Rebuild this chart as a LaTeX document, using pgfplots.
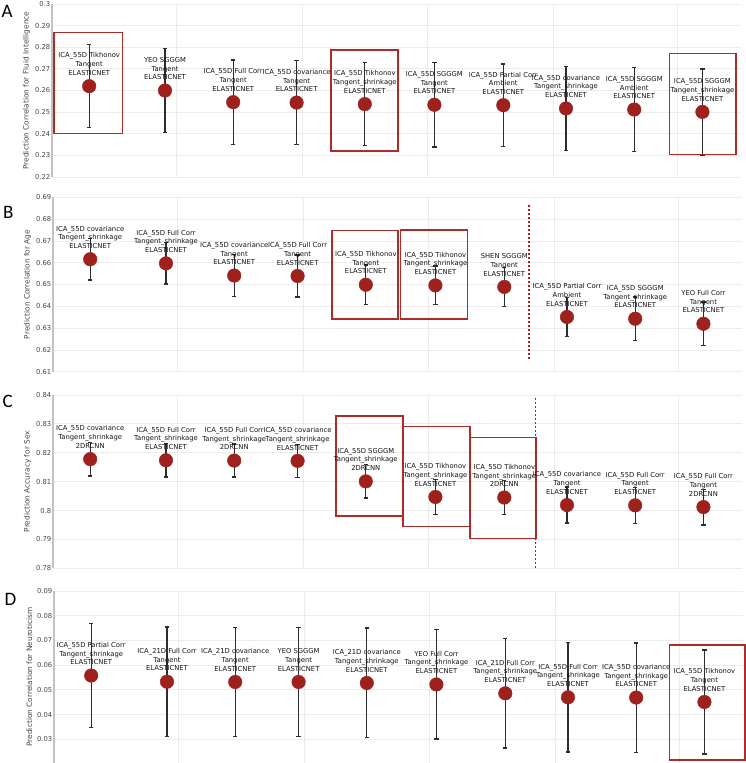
\documentclass[border=0pt]{standalone}
\usepackage{pgfplots}
\pgfplotsset{compat=1.18}
\usepackage{fontspec}
\setmainfont{DejaVu Sans}
\newfontfamily\letterfont{Carlito}

\definecolor{markred}{RGB}{158,33,30}
\definecolor{boxred}{RGB}{176,42,42}
\definecolor{dashred}{RGB}{180,30,30}
\definecolor{gridcol}{RGB}{236,236,236}
\definecolor{axiscol}{RGB}{195,195,195}
\definecolor{barcol}{RGB}{45,45,45}
\definecolor{labcol}{RGB}{20,20,20}
\definecolor{tickcol}{RGB}{70,70,70}

\tikzset{
  boxst/.style={draw=boxred, line width=1.4pt},
  dashst/.style={draw=dashred, line width=1.3pt, dash pattern=on 2.5pt off 1.5pt},
}

\pgfplotsset{
  panel/.style={
    scale only axis, width=689pt,
    xmin=-0.5, xmax=9.5,
    xtick={1.31,3.13,4.95,6.77,8.58}, xticklabels={},
    xmajorgrids, ymajorgrids,
    grid style={draw=gridcol, line width=0.8pt},
    major tick length=0pt,
    axis line style={draw=none},
    clip=false,
    scaled y ticks=false,
    yticklabel style={font=\fontsize{6.8}{8}\selectfont, text=tickcol, inner sep=1.5pt},
    /pgf/number format/assume math mode=true,
    /pgf/number format/fixed, /pgf/number format/precision=2,
    ylabel style={font=\fontsize{7.4}{8}\selectfont, text=tickcol},
    extra description/.code={\draw[axiscol, line width=1.5pt] (0,0) -- (0,1);},
  },
  pts/.style={
    only marks, mark=*, mark size=6.8pt,
    mark options={fill=markred, draw=markred},
    point meta=explicit symbolic,
    nodes near coords,
    every node near coord/.append style={font=\fontsize{6.8}{8.7}\selectfont, align=center, anchor=south, inner sep=0pt, yshift=10.5pt, text=labcol},
    error bars/.cd, y dir=both, y explicit,
    error bar style={line width=1.3pt, color=barcol},
    error mark=|,
    error mark options={line width=1.3pt, mark size=2.2pt, color=barcol},
  },
}

\begin{document}
\begin{tikzpicture}
\path[use as bounding box] (0pt,0pt) rectangle (745pt,-763pt);

% ---------------- A ----------------
\begin{axis}[panel, at={(52pt,-177pt)}, anchor=south west, height=173pt,
  ymin=0.22, ymax=0.3, ytick={0.22,0.23,0.24,0.25,0.26,0.27,0.28,0.29,0.3},
  ylabel={Prediction Correlation for Fluid Intelligence}]
\addplot+[pts] coordinates {
 (0.04,0.2620) +- (0,0.0192) [{ICA\_55D Tikhonov\\Tangent\\ELASTICNET}]
 (1.14,0.2600) +- (0,0.0195) [{YEO SGGGM\\Tangent\\ELASTICNET}]
 (2.13,0.2546) +- (0,0.0195) [{ICA\_55D Full Corr\\Tangent\\ELASTICNET}]
 (3.05,0.2544) +- (0,0.0195) [{ICA\_55D covariance\\Tangent\\ELASTICNET}]
 (4.04,0.2537) +- (0,0.0191) [{ICA\_55D Tikhonov\\Tangent\_shrinkage\\ELASTICNET}]
 (5.05,0.2534) +- (0,0.0195) [{ICA\_55D SGGGM\\Tangent\\ELASTICNET}]
 (6.05,0.2532) +- (0,0.0191) [{ICA\_55D Partial Corr\\Ambient\\ELASTICNET}]
 (6.96,0.2517) +- (0,0.0195) [{ICA\_55D covariance\\Tangent\_shrinkage\\ELASTICNET}]
 (7.95,0.2512) +- (0,0.0195) [{ICA\_55D SGGGM\\Ambient\\ELASTICNET}]
 (8.94,0.2501) +- (0,0.0199) [{ICA\_55D SGGGM\\Tangent\_shrinkage\\ELASTICNET}]
};
\draw[boxst] (axis cs:-0.47,0.2401) rectangle (axis cs:0.52,0.2869);
\draw[boxst] (axis cs:3.55,0.2320) rectangle (axis cs:4.52,0.2787);
\draw[boxst] (axis cs:8.46,0.2303) rectangle (axis cs:9.43,0.2771);
\end{axis}

% ---------------- B ----------------
\begin{axis}[panel, at={(53pt,-371.7pt)}, anchor=south west, height=174.4pt,
  ymin=0.61, ymax=0.69, ytick={0.61,0.62,0.63,0.64,0.65,0.66,0.67,0.68,0.69},
  ylabel={Prediction Correlation for Age}]
\addplot+[pts] coordinates {
 (0.04,0.6616) +- (0,0.0095) [{ICA\_55D covariance\\Tangent\_shrinkage\\ELASTICNET}]
 (1.14,0.6597) +- (0,0.0095) [{ICA\_55D Full Corr\\Tangent\_shrinkage\\ELASTICNET}]
 (2.13,0.6541) +- (0,0.0096) [{ICA\_55D covariance\\Tangent\\ELASTICNET}]
 (3.05,0.6539) +- (0,0.0096) [{ICA\_55D Full Corr\\Tangent\\ELASTICNET}]
 (4.04,0.6499) +- (0,0.0090) [{ICA\_55D Tikhonov\\Tangent\\ELASTICNET}]
 (5.05,0.6496) +- (0,0.0089) [{ICA\_55D Tikhonov\\Tangent\_shrinkage\\ELASTICNET}]
 (6.05,0.6489) +- (0,0.0090) [{SHEN SGGGM\\Tangent\\ELASTICNET}]
 (6.96,0.6351) +- (0,0.0091) [{ICA\_55D Partial Corr\\Ambient\\ELASTICNET}]
 (7.95,0.6343) +- (0,0.0100) [{ICA\_55D SGGGM\\Tangent\_shrinkage\\ELASTICNET}]
 (8.94,0.6320) +- (0,0.0100) [{YEO Full Corr\\Tangent\\ELASTICNET}]
};
\draw[boxst] (axis cs:3.55,0.6342) rectangle (axis cs:4.51,0.6747);
\draw[boxst] (axis cs:4.54,0.6342) rectangle (axis cs:5.52,0.6750);
\draw[dashst] (axis cs:6.41,0.6157) -- (axis cs:6.41,0.6872);
\end{axis}

% ---------------- C ----------------
\begin{axis}[panel, at={(53pt,-568.3pt)}, anchor=south west, height=173.3pt,
  ymin=0.78, ymax=0.84, ytick={0.78,0.79,0.8,0.81,0.82,0.83,0.84},
  ylabel={Prediction Accuracy for Sex}]
\addplot+[pts] coordinates {
 (0.04,0.8178) +- (0,0.0058) [{ICA\_55D covariance\\Tangent\_shrinkage\\2DRCNN}]
 (1.14,0.8174) +- (0,0.0058) [{ICA\_55D Full Corr\\Tangent\_shrinkage\\ELASTICNET}]
 (2.13,0.8173) +- (0,0.0057) [{ICA\_55D Full Corr\\Tangent\_shrinkage\\2DRCNN}]
 (3.05,0.8172) +- (0,0.0057) [{ICA\_55D covariance\\Tangent\_shrinkage\\ELASTICNET}]
 (4.04,0.8101) +- (0,0.0058) [{ICA\_55D SGGGM\\Tangent\_shrinkage\\2DRCNN}]
 (5.05,0.8047) +- (0,0.0060) [{ICA\_55D Tikhonov\\Tangent\_shrinkage\\ELASTICNET}]
 (6.05,0.8045) +- (0,0.0058) [{ICA\_55D Tikhonov\\Tangent\_shrinkage\\2DRCNN}]
 (6.96,0.8019) +- (0,0.0062) [{ICA\_55D covariance\\Tangent\\ELASTICNET}]
 (7.95,0.8018) +- (0,0.0062) [{ICA\_55D Full Corr\\Tangent\\ELASTICNET}]
 (8.94,0.8012) +- (0,0.0062) [{ICA\_55D Full Corr\\Tangent\\2DRCNN}]
};
\draw[boxst] (axis cs:3.61,0.7981) rectangle (axis cs:4.58,0.8328);
\draw[boxst] (axis cs:4.58,0.7944) rectangle (axis cs:5.55,0.8292);
\draw[boxst] (axis cs:5.55,0.7904) rectangle (axis cs:6.51,0.8253);
\draw[dashst] (axis cs:6.50,0.78) -- (axis cs:6.50,0.8391);
\end{axis}

% ---------------- D ----------------
\begin{axis}[panel, at={(54pt,-762.8pt)}, anchor=south west, height=171.8pt,
  ymin=0.0205, ymax=0.09, ytick={0.03,0.04,0.05,0.06,0.07,0.08,0.09},
  ylabel={Prediction Correlation for Neuroticism}]
\addplot+[pts] coordinates {
 (0.04,0.0558) +- (0,0.0211) [{ICA\_55D Partial Corr\\Tangent\_shrinkage\\ELASTICNET}]
 (1.14,0.0533) +- (0,0.0221) [{ICA\_21D Full Corr\\Tangent\\ELASTICNET}]
 (2.13,0.0532) +- (0,0.0221) [{ICA\_21D covariance\\Tangent\\ELASTICNET}]
 (3.05,0.0532) +- (0,0.0221) [{YEO SGGGM\\Tangent\\ELASTICNET}]
 (4.04,0.0528) +- (0,0.0222) [{ICA\_21D covariance\\Tangent\_shrinkage\\ELASTICNET}]
 (5.05,0.0522) +- (0,0.0221) [{YEO Full Corr\\Tangent\_shrinkage\\ELASTICNET}]
 (6.05,0.0486) +- (0,0.0221) [{ICA\_21D Full Corr\\Tangent\_shrinkage\\ELASTICNET}]
 (6.96,0.0470) +- (0,0.0221) [{ICA\_55D Full Corr\\Tangent\_shrinkage\\ELASTICNET}]
 (7.95,0.0469) +- (0,0.0221) [{ICA\_55D covariance\\Tangent\_shrinkage\\ELASTICNET}]
 (8.94,0.0451) +- (0,0.0210) [{ICA\_55D Tikhonov\\Tangent\\ELASTICNET}]
};
\draw[boxst] (axis cs:8.43,0.0216) rectangle (axis cs:9.53,0.0682);
\end{axis}

\node[anchor=base west, inner sep=0pt, font=\letterfont\fontsize{19}{19}\selectfont] at (1.5pt,-17.5pt) {A};
\node[anchor=base west, inner sep=0pt, font=\letterfont\fontsize{19}{19}\selectfont] at (3pt,-218pt) {B};
\node[anchor=base west, inner sep=0pt, font=\letterfont\fontsize{19}{19}\selectfont] at (2.5pt,-407pt) {C};
\node[anchor=base west, inner sep=0pt, font=\letterfont\fontsize{19}{19}\selectfont] at (4.5pt,-605pt) {D};
\end{tikzpicture}
\end{document}
